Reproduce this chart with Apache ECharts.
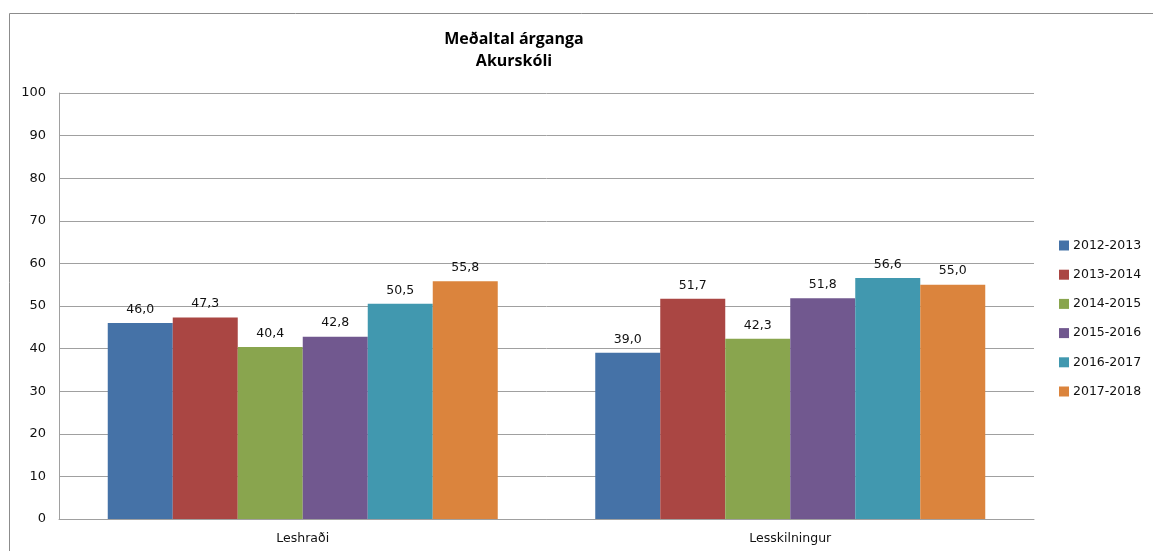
<!DOCTYPE html>
<html><head><meta charset="utf-8">
<script src="https://cdn.jsdelivr.net/npm/echarts@6/dist/echarts.min.js"></script>
<style>html,body{margin:0;padding:0;background:#fff}#c{width:1153px;height:551px}</style>
</head><body><div id="c"></div>
<script>
const categories = ['Leshraði', 'Lesskilningur'];
const seriesNames = ['2012-2013', '2013-2014', '2014-2015', '2015-2016', '2016-2017', '2017-2018'];
const v2012 = [46.0, 39.0];
const v2013 = [47.3, 51.7];
const v2014 = [40.4, 42.3];
const v2015 = [42.8, 51.8];
const v2016 = [50.5, 56.6];
const v2017 = [55.8, 55.0];
const yTicks = [0, 10, 20, 30, 40, 50, 60, 70, 80, 90, 100];
const colors = ['#4572A7', '#AA4643', '#89A54E', '#71588F', '#4198AF', '#DB843D'];
const allValues = [v2012, v2013, v2014, v2015, v2016, v2017];
const font = 'DejaVu Sans';
const chart = echarts.init(document.getElementById('c'));
chart.setOption({
  animation: false,
  color: colors,
  title: {
    text: 'Meðaltal árganga\nAkurskóli',
    left: 509, top: 23, textAlign: 'center',
    textStyle: {fontFamily: 'Open Sans', fontSize: 16, fontWeight: 'bold', color: '#000', lineHeight: 22, align: 'center'}
  },
  graphic: [{type: 'rect', shape: {x: 9.5, y: 13.5, width: 1300, height: 700}, style: {fill: 'none', stroke: '#8c8c8c', lineWidth: 1}, silent: true, z: -1}],
  legend: {
    orient: 'vertical', left: 1054, top: 234, itemWidth: 10, itemHeight: 10, itemGap: 16.2,
    icon: 'rect',
    textStyle: {fontFamily: font, fontSize: 12.5, color: '#111', padding: [0, 0, 0, -1]},
    data: seriesNames
  },
  grid: {left: 59, right: 119, top: 93, bottom: 32, containLabel: false},
  xAxis: {
    type: 'category', data: categories,
    axisLine: {lineStyle: {color: '#a0a0a0', width: 1}},
    axisTick: {show: false},
    axisLabel: {fontFamily: font, fontSize: 12.5, color: '#111', margin: 13}
  },
  yAxis: {
    type: 'value', min: yTicks[0], max: yTicks[yTicks.length - 1], interval: 10,
    axisLine: {show: true, lineStyle: {color: '#a0a0a0'}},
    axisTick: {show: false},
    splitLine: {lineStyle: {color: '#a0a0a0'}},
    axisLabel: {fontFamily: font, fontSize: 13, color: '#111', margin: 13}
  },
  series: seriesNames.map((n, i) => ({
    name: n, type: 'bar', data: allValues[i], barGap: '0%', barCategoryGap: '20%',
    label: {show: true, position: 'top', distance: 7, fontFamily: font, fontSize: 12.5, color: '#111',
      formatter: p => p.value.toFixed(1).replace('.', ',')}
  }))
});
</script></body></html>
